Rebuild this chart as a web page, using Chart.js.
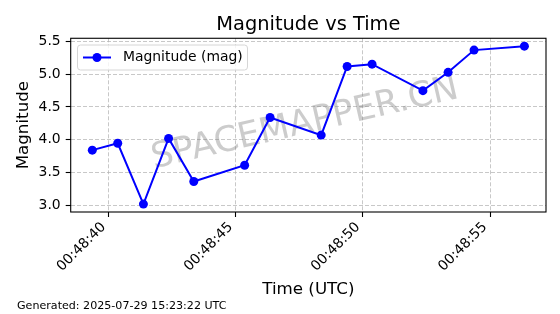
<!DOCTYPE html>
<html>
<head>
<meta charset="utf-8">
<script src="https://cdn.jsdelivr.net/npm/chart.js@4"></script>
<style>
  html, body { margin: 0; padding: 0; background: #fff; }
  #wrap { width: 560px; height: 314px; }
</style>
</head>
<body>
<div id="wrap"><canvas id="chart-mag" width="560" height="314"></canvas></div>
<script>
const timeLabels = ['00:48:39.36', '00:48:40.36', '00:48:41.37', '00:48:42.36', '00:48:43.35', '00:48:45.35', '00:48:46.35',
    '00:48:48.36', '00:48:49.38', '00:48:50.36', '00:48:52.36', '00:48:53.35', '00:48:54.37', '00:48:56.35']
const magnitudes = [3.84, 3.945, 3.015, 4.02, 3.36, 3.61, 4.34, 4.07, 5.12, 5.155, 4.75, 5.03, 5.37, 5.43]

const xTickTimes = ['00:48:40', '00:48:45', '00:48:50', '00:48:55']
const yTicks = [3.0, 3.5, 4.0, 4.5, 5.0, 5.5]

const seriesName = 'Magnitude (mag)'
const generatedText = 'Generated: 2025-07-29 15:23:22 UTC'
const watermarkText = 'SPACEMAPPER.CN'

const FONT = "'DejaVu Sans', sans-serif"
Chart.defaults.font.family = FONT
Chart.defaults.color = '#000'


function toSeconds(t) {
    const [h, m, s] = t.split(':')
    return (+h) * 3600 + (+m) * 60 + parseFloat(s)
}

function fmtTime(sec) {
    const s = Math.round(sec)
    const pad = n => String(n).padStart(2, '0')
    return pad(Math.floor(s / 3600)) + ':' + pad(Math.floor(s / 60) % 60) + ':' + pad(s % 60)
}

// matplotlib style 5% margins
function limits(vals) {
    const lo = Math.min(...vals), hi = Math.max(...vals)
    const m = (hi - lo) * 0.05
    return [lo - m, hi + m]
}

const xs = timeLabels.map(toSeconds)
const [xMin, xMax] = limits(xs)
const [yMin, yMax] = limits(magnitudes)


// frame, watermark, legend and footer
const decorations = {
    id: 'decorations',
    beforeDatasetsDraw(chart) {
        const { ctx } = chart
        ctx.save()
        ctx.translate(307, 133)
        ctx.rotate(-13 * Math.PI / 180)
        ctx.font = '35px ' + FONT
        ctx.fillStyle = 'rgba(128,128,128,0.4)'
        ctx.textAlign = 'center'
        ctx.textBaseline = 'alphabetic'
        ctx.fillText(watermarkText, 0, 0)
        ctx.restore()
    },
    afterDraw(chart) {
        const { ctx, chartArea: a } = chart
        ctx.save()
        ctx.strokeStyle = '#000'
        ctx.lineWidth = 1.1
        ctx.strokeRect(a.left, a.top, a.right - a.left, a.bottom - a.top)

        // legend
        const bx = 77.5, by = 45, bw = 170, bh = 25
        ctx.beginPath()
        ctx.roundRect(bx, by, bw, bh, 3)
        ctx.fillStyle = 'rgba(255,255,255,0.8)'
        ctx.fill()
        ctx.strokeStyle = '#d6d6d6'
        ctx.lineWidth = 1
        ctx.stroke()
        const ly = by + bh / 2
        ctx.strokeStyle = '#0000ff'
        ctx.lineWidth = 2
        ctx.beginPath()
        ctx.moveTo(83, ly)
        ctx.lineTo(111, ly)
        ctx.stroke()
        ctx.fillStyle = '#0000ff'
        ctx.beginPath()
        ctx.arc(97, ly, 4.5, 0, Math.PI * 2)
        ctx.fill()
        ctx.fillStyle = '#000'
        ctx.font = '13.9px ' + FONT
        ctx.textBaseline = 'middle'
        ctx.fillText(seriesName, 123, ly)

        // footer
        ctx.font = '11.1px ' + FONT
        ctx.textBaseline = 'alphabetic'
        ctx.fillText(generatedText, 17, 309)
        ctx.restore()
    }
}


let data = {
    datasets: [{
        label: seriesName,
        data: xs.map((x, i) => ({ x, y: magnitudes[i] })),
        borderColor: '#0000ff',
        backgroundColor: '#0000ff',
        borderWidth: 2,
        pointRadius: 4.5,
        pointHoverRadius: 4.5,
        pointBorderWidth: 0,
        pointBackgroundColor: '#0000ff',
        tension: 0
    }]
}

let options = {
    responsive: false,
    animation: false,
    layout: { padding: { left: 0, right: 14, top: 0, bottom: 0 } },
    plugins: {
        legend: { display: false },
        tooltip: { enabled: false },
        title: {
            display: true,
            text: 'Magnitude vs Time',
            fullSize: false,
            font: { size: 19.4, weight: 'normal' },
            color: '#000',
            padding: { top: 13.5, bottom: 1.5 }
        }
    },
    scales: {
        x: {
            type: 'linear',
            min: xMin,
            max: xMax,
            afterBuildTicks: scale => { scale.ticks = xTickTimes.map(t => ({ value: toSeconds(t) })) },
            afterFit: scale => { scale.height = 102 },
            ticks: {
                autoSkip: false,
                minRotation: 45,
                maxRotation: 45,
                padding: 2,
                labelOffset: -5,
                font: { size: 13.9 },
                color: '#000',
                callback: v => fmtTime(v)
            },
            grid: {
                color: 'rgba(176,176,176,0.7)',
                lineWidth: 1,
                tickLength: 5,
                tickColor: '#000',
                tickWidth: 1.1
            },
            border: { display: false, dash: [4, 2] },
            title: {
                display: true,
                text: 'Time (UTC)',
                font: { size: 16.7 },
                color: '#000',
                padding: { top: 0, bottom: 14 }
            }
        },
        y: {
            min: yMin,
            max: yMax,
            afterBuildTicks: scale => { scale.ticks = yTicks.map(v => ({ value: v })) },
            afterFit: scale => { scale.width = 70.7 },
            ticks: {
                padding: 5,
                font: { size: 13.9 },
                color: '#000',
                callback: v => v.toFixed(1)
            },
            grid: {
                color: 'rgba(176,176,176,0.7)',
                lineWidth: 1,
                tickLength: 5,
                tickColor: '#000',
                tickWidth: 1.1
            },
            border: { display: false, dash: [4, 2] },
            title: {
                display: true,
                text: 'Magnitude',
                font: { size: 16.7 },
                color: '#000',
                padding: { top: 14, bottom: 0 }
            }
        }
    }
}

new Chart('chart-mag', { type: 'line', data, options, plugins: [decorations] })
</script>
</body>
</html>
